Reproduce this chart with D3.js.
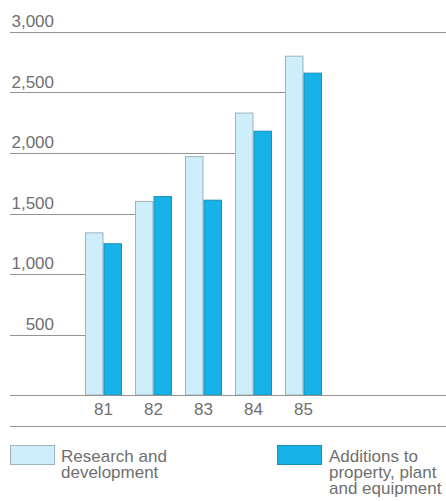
<!DOCTYPE html>
<html>
<head>
<meta charset="utf-8">
<script src="https://cdn.jsdelivr.net/npm/d3@7/dist/d3.min.js"></script>
<style>
  html, body { margin: 0; padding: 0; background: #fff; }
  svg { display: block; }
  text { font-family: "Liberation Sans", Arial, Helvetica, sans-serif; fill: #6f6f6f; }
</style>
</head>
<body>
<svg id="chart" width="446" height="501"></svg>
<script>
// Fiscal years shown on the x axis
const years = ["81", "82", "83", "84", "85"];
// Spending per year (in millions)
const researchValues = [1340, 1600, 1970, 2330, 2800];
const additionsValues = [1250, 1640, 1610, 2180, 2660];
const yTicks = [500, 1000, 1500, 2000, 2500, 3000];
const seriesKeys = ["research", "additions"];
const seriesLabels = [
  ["Research and", "development"],
  ["Additions to", "property, plant", "and equipment"]
];

const colors = { research: "#cdeefa", additions: "#17b3e8" };
const strokes = { research: "#9fb3bb", additions: "#1d8fba" };

const svg = d3.select("#chart");
const W = 446;

const x = d3.scaleBand().domain(years).range([78.5, 328.5])
  .paddingInner(0.26).paddingOuter(0.13);
const xSub = d3.scaleBand().domain(seriesKeys).range([0, x.bandwidth()]);
const y = d3.scaleLinear().domain([0, 3000]).range([395, 32]);

const rows = years.map((yr, i) => ({
  year: yr,
  research: researchValues[i],
  additions: additionsValues[i]
}));

// Gridlines run from the left until they meet the first bar group that rises past them
const gridLayer = svg.append("g");
yTicks.forEach(t => {
  const hit = rows.find(r => Math.max(r.research, r.additions) >= t);
  const xEnd = hit ? x(hit.year) : W;
  gridLayer.append("line")
    .attr("x1", 10).attr("x2", xEnd)
    .attr("y1", Math.round(y(t)) + 0.5).attr("y2", Math.round(y(t)) + 0.5)
    .attr("stroke", "#939393").attr("stroke-width", 1.2);
  gridLayer.append("text")
    .attr("x", 54).attr("y", y(t) - 5)
    .attr("text-anchor", "end")
    .attr("font-size", 17)
    .text(d3.format(",")(t));
});

// Bars
const groups = svg.append("g").selectAll("g")
  .data(rows).join("g")
  .attr("transform", d => `translate(${x(d.year)},0)`);

groups.selectAll("rect")
  .data(d => seriesKeys.map(k => ({ key: k, value: d[k] })))
  .join("rect")
  .attr("x", d => xSub(d.key) + 0.5)
  .attr("width", xSub.bandwidth() - 1)
  .attr("y", d => y(d.value))
  .attr("height", d => y(0) - y(d.value))
  .attr("fill", d => colors[d.key])
  .attr("stroke", d => strokes[d.key])
  .attr("stroke-width", 1);

// Baseline and bottom rule
svg.append("line")
  .attr("x1", 10).attr("x2", W)
  .attr("y1", Math.round(y(0)) + 0.5).attr("y2", Math.round(y(0)) + 0.5)
  .attr("stroke", "#939393").attr("stroke-width", 1.2);
svg.append("line")
  .attr("x1", 10).attr("x2", W)
  .attr("y1", 426.5).attr("y2", 426.5)
  .attr("stroke", "#939393").attr("stroke-width", 1.2);

// Year labels
svg.append("g").selectAll("text")
  .data(years).join("text")
  .attr("x", d => x(d) + x.bandwidth() / 2)
  .attr("y", 415)
  .attr("text-anchor", "middle")
  .attr("font-size", 17)
  .text(d => d);

// Legend
const legendPos = [
  { key: "research", bx: 10, tx: 61 },
  { key: "additions", bx: 277, tx: 329 }
];
legendPos.forEach((p, i) => {
  svg.append("rect")
    .attr("x", p.bx + 0.5).attr("y", 445.5)
    .attr("width", 44).attr("height", 19)
    .attr("fill", colors[p.key])
    .attr("stroke", strokes[p.key]);
  seriesLabels[i].forEach((line, j) => {
    svg.append("text")
      .attr("x", p.tx).attr("y", 461.5 + j * 16)
      .attr("font-size", 17)
      .text(line);
  });
});
</script>
</body>
</html>
